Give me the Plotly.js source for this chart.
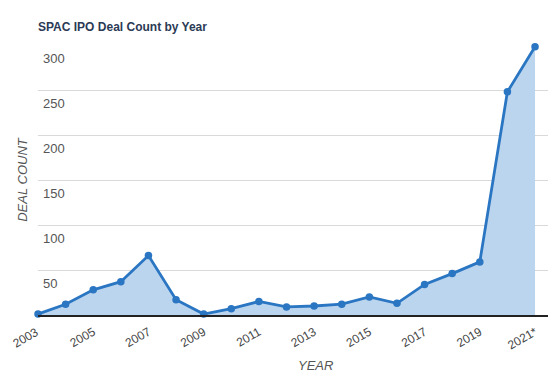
<!DOCTYPE html>
<html>
<head>
<meta charset="utf-8">
<script src="https://cdn.plot.ly/plotly-3.0.1.min.js"></script>
<style>html,body{margin:0;padding:0;background:#fff}#chart{width:555px;height:382px}</style>
</head>
<body>
<div id="chart"></div>
<script>
const years = [2003,2004,2005,2006,2007,2008,2009,2010,2011,2012,2013,2014,2015,2016,2017,2018,2019,2020,2021];
const dealCount = [1,12,28,37,66,17,1,7,15,9,10,12,20,13,34,46,59,248,298];
const xTickVals = [2005,2007,2009,2011,2013,2015,2017,2019,2021];
const xTickText = ["2005","2007","2009","2011","2013","2015","2017","2019","2021*"];
const firstYear = 2003;
const firstYearLabel = "2003";
const yTickVals = [50,100,150,200,250,300];

const trace = {
  x: years, y: dealCount, type: 'scatter', mode: 'lines+markers',
  fill: 'tozeroy', fillcolor: '#bcd5ee',
  line: {color: '#2a76c2', width: 2.8},
  marker: {color: '#2a76c2', size: 7.5},
  cliponaxis: false,
  hoverinfo: 'skip'
};

const layout = {
  width: 555, height: 382,
  margin: {l: 38, r: 7, t: 45, b: 67},
  paper_bgcolor: '#fff', plot_bgcolor: '#fff',
  showlegend: false,
  font: {family: 'Liberation Sans, Arial, sans-serif', color: '#555'},
  title: {text: '<b>SPAC IPO Deal Count by Year</b>', x: 38/555, xanchor: 'left', y: 1 - 27/382, yanchor: 'middle',
          font: {size: 12, color: '#2b3a55', family: 'Liberation Sans, Arial, sans-serif'}},
  xaxis: {
    range: [2003, 2021.47], tickvals: xTickVals, ticktext: xTickText, tickangle: -30,
    showgrid: false, zeroline: false, showline: true, linecolor: '#222', linewidth: 1.5,
    ticks: '', tickfont: {size: 12, color: '#444'}, ticklabelstandoff: 4
  },
  yaxis: {
    range: [0, 300], tickvals: yTickVals, ticklabelposition: 'inside bottom',
    ticklabelshift: 4, ticklabelstandoff: 2,
    showgrid: true, gridcolor: '#d9d9d9', gridwidth: 1, zeroline: false, showline: false,
    ticks: '', tickfont: {size: 13, color: '#555'},
    title: {text: '<i>DEAL COUNT</i>', font: {size: 13, color: '#555'}, standoff: 12}
  },
  annotations: [{
    text: '<i>YEAR</i>', xref: 'paper', yref: 'paper', x: (315-38)/510, y: -(365-315)/270,
    xanchor: 'center', yanchor: 'middle', showarrow: false, font: {size: 13, color: '#555'}
  }, {
    text: firstYearLabel, xref: 'x', yref: 'y', x: firstYear, y: 0, textangle: -30,
    xanchor: 'right', yanchor: 'top', xshift: 5, yshift: -7, showarrow: false,
    font: {size: 12, color: '#444'}
  }]
};

Plotly.newPlot('chart', [trace], layout, {displayModeBar: false, staticPlot: true});
</script>
</body>
</html>
